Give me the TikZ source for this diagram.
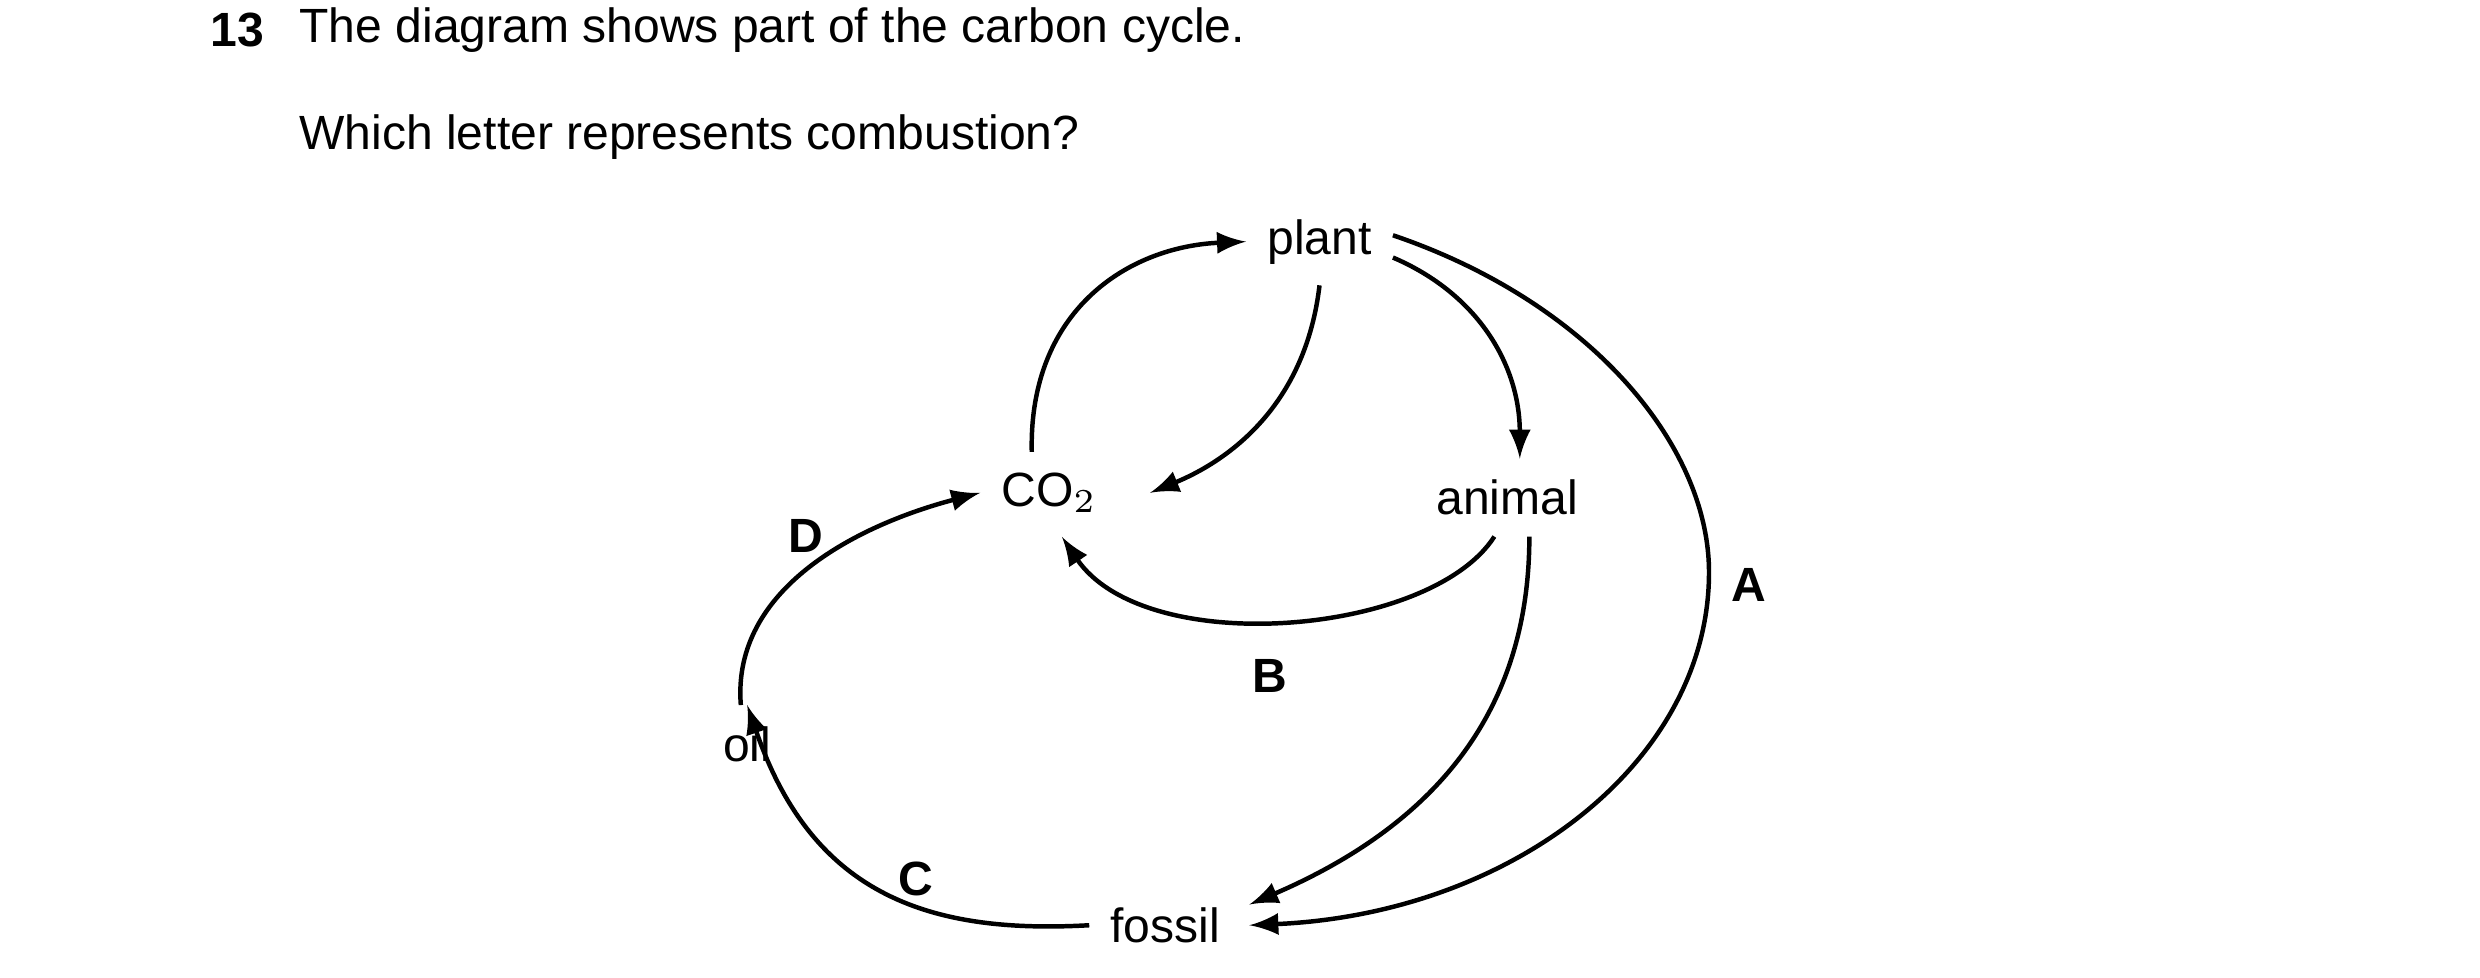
\documentclass[tikz,border=0pt]{standalone}
\usepackage{fontspec}
\setmainfont{Liberation Sans}
\usetikzlibrary{positioning}
\begin{document}
\begin{tikzpicture}[-latex,thick,
                    item/.style={font=\fontsize{8.6}{10}\selectfont,inner sep=1.2mm},
                    letter/.style={font=\fontsize{8.6}{10}\selectfont\bfseries,inner sep=0pt}]
\useasboundingbox (0,0) rectangle (15.6,6.15);

\node[item,anchor=west,inner sep=0pt] (num) at (1.31,5.96) {\textbf{13}};
\node[item,anchor=west,inner sep=0pt] (title) at (1.87,5.96) {The diagram shows part of the carbon cycle.};
\node[item,anchor=west,inner sep=0pt] (question) at (1.87,5.29) {Which letter represents combustion?};

\node[item] (plant) at (8.30,4.63) {plant};
\node[item] (co2) at (6.60,3.05) {CO$_2$};
\node[item] (animal) at (9.48,3.02) {animal};
\node[item] (oil) at (4.70,1.47) {oil};
\node[item] (fossil) at (7.33,0.33) {fossil};

\node[letter] (D) at (5.07,2.78) {D};
\node[letter] (B) at (7.99,1.90) {B};
\node[letter] (A) at (11.00,2.47) {A};
\node[letter] (C) at (5.76,0.62) {C};

\draw ([xshift=-1.1mm]co2.north) .. controls (6.47,4.20) and (7.10,4.60) .. (plant.west);
\draw (plant.south) .. controls (8.20,3.50) and (7.60,3.20) .. ([xshift=2mm]co2.east);
\draw ([yshift=-1mm]plant.east) .. controls (9.30,4.30) and (9.56,3.85) .. ([xshift=0.8mm]animal.north);
\draw ([yshift=0.4mm]plant.east) .. controls (10.00,4.25) and (10.75,3.35) .. (10.75,2.55)
      .. controls (10.75,1.35) and (9.50,0.40) .. ([xshift=0.5mm]fossil.east);
\draw ([xshift=-0.8mm]animal.south) .. controls (9.00,2.15) and (7.20,2.00) .. ([xshift=0.8mm,yshift=-0.2mm]co2.south);
\draw ([xshift=1.4mm]animal.south) .. controls (9.62,1.65) and (9.00,0.95) .. ([xshift=0.5mm,yshift=1.3mm]fossil.east);
\draw (fossil.west) .. controls (5.80,0.27) and (5.10,0.55) .. (oil.north);
\draw ([xshift=-0.4mm]oil.north) .. controls (4.60,2.45) and (5.40,2.85) .. (co2.west);
\end{tikzpicture}
\end{document}
